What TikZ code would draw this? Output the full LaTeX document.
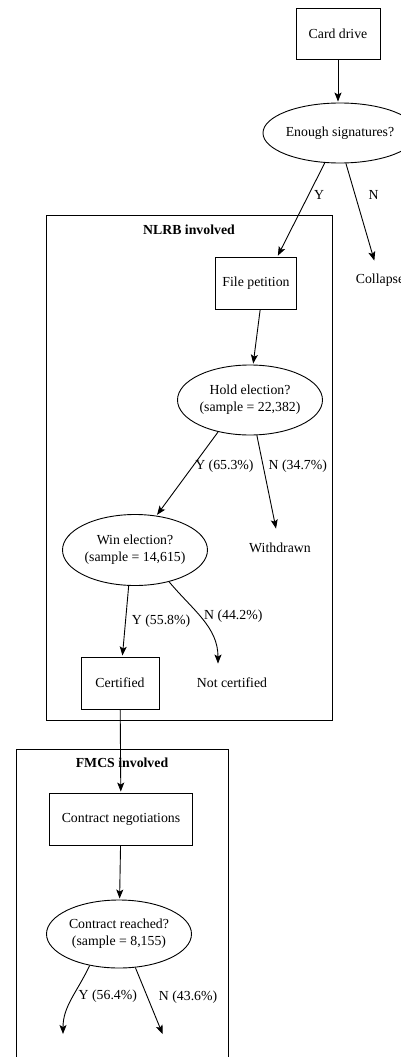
\documentclass[tikz,border=0pt]{standalone}
\usepackage{fontspec}
\setmainfont{Liberation Serif}
\usetikzlibrary{arrows.meta,shapes.geometric,positioning}

\begin{document}
\begin{tikzpicture}[->,>={Stealth[length=9pt,width=7pt,inset=2pt]},shorten >=1pt,
    x=1pt,y=1pt,line width=0.9pt,font=\fontsize{13.8}{16.7}\selectfont,
    box node/.style={rectangle,draw,minimum height=52pt},
    test node/.style={ellipse,draw,align=center,inner sep=0pt},
    end node/.style={minimum height=36pt},
    cluster/.style={rectangle,draw},
    title node/.style={font=\fontsize{13.8}{16.7}\selectfont\bfseries},
    lbl/.style={anchor=west,inner sep=0pt}]

\useasboundingbox (0,0) rectangle (401,-1057);

% clusters
\node[cluster, minimum width=286pt, minimum height=505pt] (nlrb) at (189,-467.5) {};
\node[title node, below=7pt of nlrb.north] (nlrbtitle) {NLRB involved};
\node[cluster, minimum width=212pt, minimum height=316pt] (fmcs) at (122,-907) {};
\node[title node, below=6pt of fmcs.north] (fmcstitle) {FMCS involved};

\node[box node, minimum width=84pt, minimum height=51pt] (drive) at (338,-34) {Card drive};
\node[test node, minimum width=154pt, minimum height=60pt] (sig) at (340,-133) {Enough signatures?};
\node[end node] (collapse) at (380,-280) {Collapse};
\node[box node, minimum width=81pt] (petition) at (256,-283) {File petition};
\node[test node, minimum width=145pt, minimum height=70pt] (hold) at (250,-400) {Hold election?\\(sample = 22,382)};
\node[end node] (withdrawn) at (280,-548) {Withdrawn};
\node[test node, minimum width=145pt, minimum height=71pt] (win) at (135,-550) {Win election?\\(sample = 14,615)};
\node[box node, minimum width=78pt] (certified) at (120,-683) {Certified};
\node[end node] (notcert) at (232,-683) {Not certified};
\node[box node, minimum width=143pt] (negot) at (121,-819) {Contract negotiations};
\node[test node, minimum width=145pt, minimum height=68pt] (reached) at (119,-934) {Contract reached?\\(sample = 8,155)};
\coordinate (agreed) at (63,-1035);
\coordinate (noagree) at (163,-1035);

\draw (drive) -- (drive |- sig.north);
\draw (sig.243) -- node[lbl,pos=0.34,xshift=5pt] {Y} (petition.51);
\draw (sig.281) -- node[lbl,pos=0.32,xshift=13pt] {N} (collapse);
\draw (petition.-81) -- (hold.85);
\draw (hold.225) -- node[lbl,pos=0.41,xshift=2pt] {Y (65.3\%)} (win.58);
\draw (hold.281) -- node[lbl,pos=0.33,xshift=5pt] {N (34.7\%)} (withdrawn);
\draw (win.260) -- node[lbl,pos=0.5,xshift=6pt] {Y (55.8\%)} (certified);
\draw (win.-43) to[out=-50,in=90] node[lbl,pos=0.45,xshift=4pt] {N (44.2\%)} ([xshift=-14pt]notcert.north);
\draw (certified) -- (negot);
\draw (negot) -- (reached);
\draw (reached.227) to[out=-115,in=90] node[lbl,pos=0.45,xshift=5pt] {Y (56.4\%)} (agreed);
\draw (reached.296) -- node[lbl,pos=0.44,xshift=11pt] {N (43.6\%)} (noagree);

\end{tikzpicture}
\end{document}
